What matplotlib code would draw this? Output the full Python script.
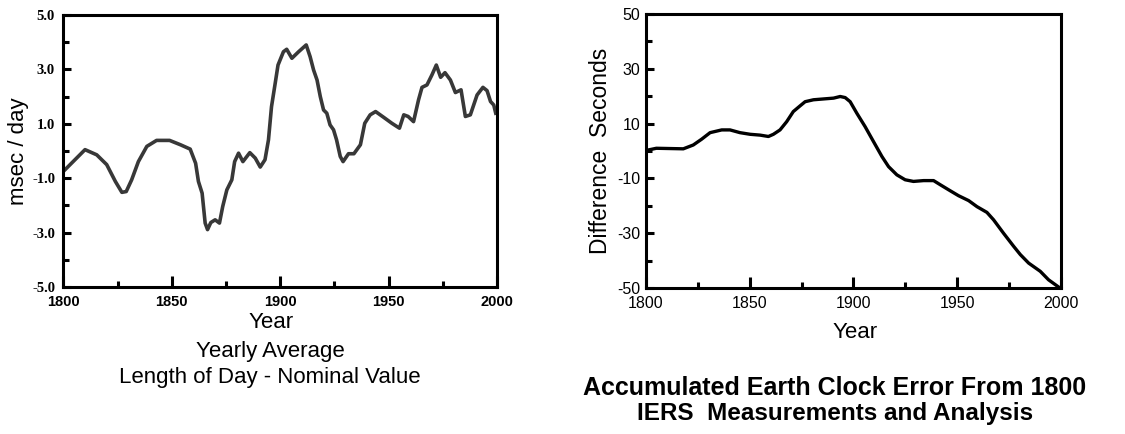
"""
Length of day and accumulated Earth clock error, 1800-2000.
Two side-by-side panels recreated from an IERS figure.
"""

import matplotlib.pyplot as plt
from matplotlib.ticker import MultipleLocator

# Left panel: yearly average length of day excess (msec / day)
lod_years = [1800, 1810, 1815.4, 1820, 1824, 1827, 1829, 1831.5, 1834.6, 1838.5,
             1843, 1849, 1854, 1858.5, 1861, 1862.3, 1864, 1865.4, 1866.5, 1868,
             1870, 1872, 1873.5, 1875.4, 1877.7, 1879, 1880.8, 1882.8, 1886, 1888.5,
             1890.8, 1893, 1894.6, 1896, 1897.7, 1899, 1901.5, 1903, 1905.4, 1908.5,
             1912, 1913.8, 1915.4, 1917, 1918.5, 1920, 1921.5, 1923, 1924.6, 1926,
             1927.7, 1929, 1931.5, 1934, 1937, 1939, 1941.5, 1944, 1947.7, 1951.5,
             1955, 1957, 1959, 1961.5, 1963.8, 1965.4, 1967.7, 1970, 1972, 1974,
             1976, 1978.5, 1980.8, 1983.4, 1985.4, 1987.7, 1990.8, 1993.5, 1995.4, 1997,
             1998.5, 1999.4]
lod_msec = [-0.75, 0.05, -0.14, -0.5, -1.12, -1.52, -1.49, -1.06, -0.39, 0.17,
            0.39, 0.39, 0.23, 0.07, -0.45, -1.12, -1.55, -2.65, -2.89, -2.63,
            -2.53, -2.65, -2.04, -1.43, -1.06, -0.39, -0.08, -0.39, -0.06, -0.26,
            -0.59, -0.32, 0.41, 1.63, 2.49, 3.16, 3.65, 3.74, 3.41, 3.65,
            3.90, 3.47, 2.98, 2.61, 2.00, 1.51, 1.39, 0.96, 0.78, 0.41,
            -0.2, -0.39, -0.1, -0.1, 0.23, 1.02, 1.33, 1.45, 1.24, 1.02,
            0.84, 1.33, 1.27, 1.08, 1.88, 2.34, 2.43, 2.80, 3.16, 2.71,
            2.88, 2.61, 2.15, 2.25, 1.27, 1.33, 2.06, 2.34, 2.22, 1.82,
            1.69, 1.39]

# Right panel: accumulated clock error (seconds)
err_years = [1800, 1805, 1818, 1822.8, 1826.8, 1830.9, 1836.5, 1840.5, 1845.3, 1850.2,
             1855, 1859, 1861.4, 1864.6, 1867.8, 1871, 1874.3, 1876.7, 1880.7, 1885.5,
             1890.4, 1893.6, 1896, 1898.4, 1901.6, 1905.6, 1909.6, 1913.7, 1916.9, 1920.9,
             1924.9, 1928.9, 1933.8, 1938.6, 1941.8, 1946.6, 1950.6, 1955.5, 1959.5, 1964.3,
             1967.5, 1972.3, 1977.2, 1980.4, 1984.4, 1990, 1994, 1999.5]
err_sec = [0.2, 1.0, 0.8, 2.2, 4.3, 6.7, 7.7, 7.7, 6.7, 6.1,
           5.8, 5.3, 6.1, 7.7, 10.7, 14.4, 16.5, 18.0, 18.7, 19.0,
           19.3, 19.9, 19.5, 18.0, 13.8, 8.9, 3.5, -2.0, -5.7, -8.7,
           -10.5, -11.1, -10.8, -10.8, -12.3, -14.5, -16.3, -18.1, -20.3, -22.4,
           -25.1, -30.0, -34.8, -37.8, -40.9, -43.9, -47.0, -50.0]

lod_ticks = [-5.0, -3.0, -1.0, 1.0, 3.0, 5.0]
err_ticks = [-50, -30, -10, 10, 30, 50]
year_ticks = [1800, 1850, 1900, 1950, 2000]

SANS = 'Liberation Sans'

fig = plt.figure(figsize=(11.25, 4.34), dpi=100)
ax1 = fig.add_axes([0.0563, 0.3387, 0.3855, 0.6267])
ax2 = fig.add_axes([0.5742, 0.3364, 0.3689, 0.6313])


def style_axes(ax):
    for sp in ax.spines.values():
        sp.set_linewidth(2.2)
    ax.xaxis.set_minor_locator(MultipleLocator(25))
    ax.tick_params(axis='both', which='both', direction='in', width=2.2,
                   top=False, right=False)
    ax.tick_params(axis='x', which='major', length=8, pad=6)
    ax.tick_params(axis='x', which='minor', length=4)
    ax.tick_params(axis='y', which='major', length=6, pad=6)
    ax.tick_params(axis='y', which='minor', length=4)
    ax.set_xlim(1800, 2000)
    ax.set_xticks(year_ticks)


# left panel
ax1.plot(lod_years, lod_msec, color='#383838', linewidth=2.6)
style_axes(ax1)
ax1.set_ylim(-5, 5)
ax1.set_yticks(lod_ticks)
ax1.yaxis.set_minor_locator(MultipleLocator(1))
ax1.set_yticklabels([f'{v:.1f}' for v in lod_ticks], fontfamily='Liberation Serif',
                    fontweight='bold', fontsize=10.5)
ax1.set_xticklabels([str(y) for y in year_ticks], fontfamily=SANS,
                    fontweight='bold', fontsize=10.5)
ax1.set_ylabel('msec / day', fontfamily=SANS, fontsize=16, labelpad=2)
fig.text(0.241, 0.256, 'Year', ha='center', va='center', fontfamily=SANS, fontsize=16)
fig.text(0.240, 0.191, 'Yearly Average', ha='center', va='center',
         fontfamily=SANS, fontsize=16)
fig.text(0.240, 0.131, 'Length of Day - Nominal Value', ha='center', va='center',
         fontfamily=SANS, fontsize=16)

# right panel
ax2.plot(err_years, err_sec, color='black', linewidth=2.4)
style_axes(ax2)
ax2.set_ylim(-50, 50)
ax2.set_yticks(err_ticks)
ax2.yaxis.set_minor_locator(MultipleLocator(10))
ax2.tick_params(axis='y', which='major', pad=4)
ax2.set_yticklabels([str(v) for v in err_ticks], fontfamily=SANS, fontsize=11.5)
ax2.set_xticklabels([str(y) for y in year_ticks], fontfamily=SANS, fontsize=11.5)
ax2.set_ylabel('Difference  Seconds', fontfamily=SANS, fontsize=16.5, labelpad=4)
fig.text(0.760, 0.233, 'Year', ha='center', va='center', fontfamily=SANS, fontsize=16)
fig.text(0.742, 0.106, 'Accumulated Earth Clock Error From 1800', ha='center',
         va='center', fontfamily=SANS, fontsize=18, fontweight='bold')
fig.text(0.742, 0.048, 'IERS  Measurements and Analysis', ha='center',
         va='center', fontfamily=SANS, fontsize=17.5, fontweight='bold')

fig.savefig('out.png', dpi=100)
